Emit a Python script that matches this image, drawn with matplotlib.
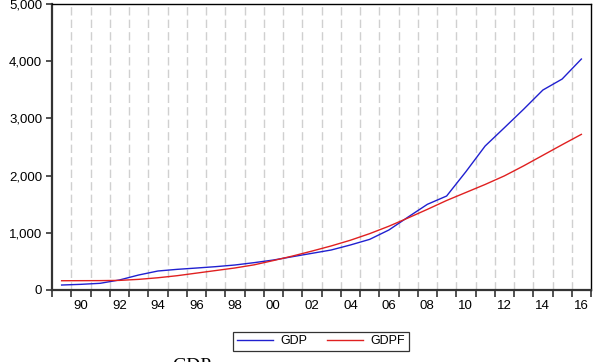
import numpy as np
import matplotlib.pyplot as plt
from matplotlib.ticker import FuncFormatter

plt.rcParams['font.family'] = ['Liberation Sans', 'DejaVu Sans']

years = list(range(1989, 2017))
gdp = [87, 99, 117, 175, 262, 332, 361, 384, 408, 437, 478, 524, 583, 641,
       699, 787, 885, 1049, 1276, 1498, 1643, 2068, 2517, 2837, 3160, 3496,
       3688, 4038]
gdpf = [162, 163, 164, 168, 186, 214, 250, 295, 340, 385, 440, 515, 594, 680,
        770, 870, 985, 1115, 1260, 1410, 1565, 1705, 1845, 1995, 2170, 2355,
        2540, 2721]
label_years = list(range(1990, 2017, 2))

fig = plt.figure(figsize=(6.01, 3.62), dpi=100)
ax = fig.add_axes([52 / 601, 1 - 290 / 362, 539 / 601, 286 / 362])

# vertical dashed grid at year boundaries
bounds = np.arange(years[0] - 0.5, years[-1] + 1.0, 1.0)
for b in bounds[1:-1]:
    ax.axvline(b, color='#d0d0d0', lw=1.0, ls=(0, (6, 3)), zorder=0)

ax.plot(years, gdp, color='#2020d0', lw=1.0, label='GDP')
ax.plot(years, gdpf, color='#e02020', lw=1.0, label='GDPF')

ax.set_xlim(bounds[0], bounds[-1])
ax.set_ylim(0, 5000)
ax.set_yticks(range(0, 5001, 1000))
ax.yaxis.set_major_formatter(FuncFormatter(lambda v, p: f'{int(v):,}'))

ax.set_xticks(bounds)
ax.set_xticklabels([])
ax.set_xticks(label_years, minor=True)
ax.set_xticklabels([f'{y % 100:02d}' for y in label_years], minor=True)
ax.tick_params(axis='x', which='major', direction='out', length=5, width=1.2, color='#333333')
ax.tick_params(axis='x', which='minor', length=0, pad=7, labelsize=9.5)
ax.tick_params(axis='y', direction='out', length=4, width=1.2, color='#333333', labelsize=9.5, pad=3)

for s in ['left', 'bottom']:
    ax.spines[s].set_linewidth(1.6)
    ax.spines[s].set_color('#333333')
for s in ['top', 'right']:
    ax.spines[s].set_linewidth(1.0)
    ax.spines[s].set_color('black')

leg = fig.legend(loc='center', bbox_to_anchor=(321 / 601, 1 - 341.5 / 362), ncol=2,
                 fontsize=9, frameon=True, fancybox=False, edgecolor='black',
                 handlelength=2.9, columnspacing=1.5, borderpad=0.3, handletextpad=0.6)
leg.get_frame().set_linewidth(0.9)

fig.text(192 / 601, 1 - 358 / 362, 'GDP', family=['Liberation Serif', 'DejaVu Serif'],
         fontsize=14, ha='center', va='top')

fig.savefig('out.png', dpi=100)
